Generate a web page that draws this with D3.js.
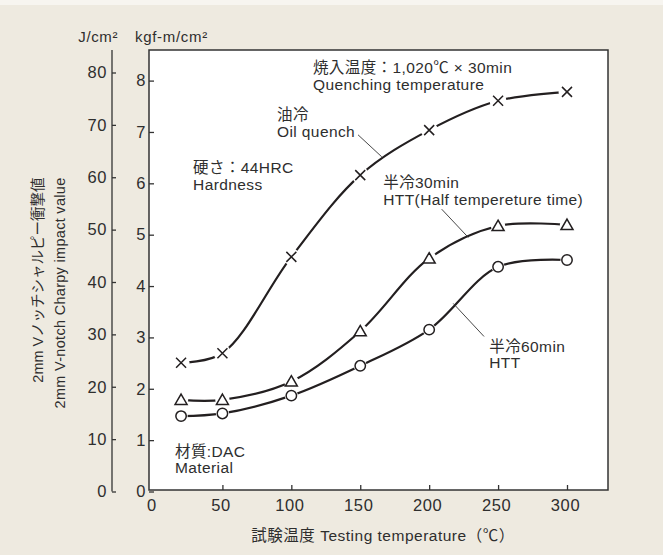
<!DOCTYPE html>
<html>
<head>
<meta charset="utf-8">
<script src="https://cdn.jsdelivr.net/npm/d3@7"></script>
<style>
  html, body { margin: 0; padding: 0; background: #eeeae0; }
  svg { display: block; }
  text { font-family: "Liberation Sans", Arial, "Noto Sans CJK JP", sans-serif; fill: #2e2e2e; }
</style>
</head>
<body>
<script>
const WIDTH = 663, HEIGHT = 555;

// test temperature, °C
const temps = [20, 50, 100, 150, 200, 250, 300];
// 2mm V-notch Charpy impact value, J/cm2
const oilQuench = [24.6, 26.4, 44.8, 60.4, 69.0, 74.6, 76.3];
const htt30 = [17.5, 17.5, 21.0, 30.6, 44.5, 50.7, 50.9];
const htt60 = [14.4, 14.9, 18.3, 24.0, 30.9, 42.9, 44.2];

const jTicks = d3.range(0, 90, 10);
const kgfTicks = d3.range(0, 9);
const tempTicks = d3.range(0, 350, 50);
const KGF = 9.80665; // 1 kgf-m = 9.80665 J

const series = [
  { values: oilQuench, marker: 'cross' },
  { values: htt30, marker: 'triangle' },
  { values: htt60, marker: 'circle' }
];

// text notes, placed in data units (°C, J/cm2)
const notes = [
  { t: 115.7, j: 79.9, lines: ['焼入温度：1,020℃ × 30min', 'Quenching temperature'] },
  { t: 89.6, j: 70.9, lines: ['油冷', 'Oil quench'] },
  { t: 28.7, j: 60.8, lines: ['硬さ：44HRC', 'Hardness'] },
  { t: 166.7, j: 57.9, lines: ['半冷30min', 'HTT(Half tempereture time)'] },
  { t: 243.6, j: 26.7, lines: ['半冷60min', 'HTT'] },
  { t: 15.6, j: 6.6, lines: ['材質:DAC', 'Material'] }
];
// leader lines from note to curve
const leaders = [
  [148.4, 68.1, 165.6, 63.9],
  [209.1, 53.9, 228.4, 48.5],
  [217.5, 35.9, 239.8, 29.6]
];

const INK = '#231f20';

const svg = d3.select('body').append('svg')
  .attr('width', WIDTH)
  .attr('height', HEIGHT);

svg.append('rect').attr('width', WIDTH).attr('height', HEIGHT).attr('fill', '#eeeae0');
svg.append('rect').attr('width', WIDTH).attr('height', 5).attr('fill', '#f7f5f0');

const x = d3.scaleLinear().domain([0, 300]).range([153.5, 567]);
const y = d3.scaleLinear().domain([0, 80]).range([491.5, 72.5]);
const yK = d3.scaleLinear().domain([0, 80 / KGF]).range(y.range());

// plot box
svg.append('rect')
  .attr('x', 149).attr('y', 50)
  .attr('width', 459).attr('height', 440)
  .attr('fill', '#fff')
  .attr('stroke', '#333')
  .attr('stroke-width', 1.5);

// J/cm2 axis
svg.append('line')
  .attr('x1', 112).attr('x2', 112)
  .attr('y1', 50).attr('y2', y(0))
  .attr('stroke', '#333').attr('stroke-width', 1.3);

const jAxis = svg.append('g')
  .attr('transform', 'translate(112,0)')
  .call(d3.axisLeft(y).tickValues(jTicks).tickSize(-4).tickSizeOuter(0).tickPadding(5));

const kAxis = svg.append('g')
  .attr('transform', 'translate(149,0)')
  .call(d3.axisLeft(yK).tickValues(kgfTicks).tickFormat(d3.format('d')).tickSize(-5).tickSizeOuter(0).tickPadding(3));

const xAxis = svg.append('g')
  .attr('transform', 'translate(0,490)')
  .call(d3.axisBottom(x).tickValues(tempTicks).tickSize(-5).tickSizeOuter(0).tickPadding(9));

[jAxis, kAxis, xAxis].forEach(a => {
  a.select('.domain').remove();
  a.selectAll('line').attr('stroke', '#333').attr('stroke-width', 1.3);
  a.selectAll('text')
    .attr('font-size', 16.5)
    .attr('letter-spacing', 0.6)
    .attr('fill', '#2e2e2e')
    .style('font-family', '"Liberation Sans", Arial, sans-serif');
});
xAxis.selectAll('.tick').filter(d => d === 0).select('line').remove();
xAxis.selectAll('text').attr('dx', -2);

// axis titles
svg.append('text').attr('x', 118).attr('y', 41.5)
  .attr('text-anchor', 'end').attr('font-size', 15).attr('letter-spacing', 0.6)
  .text('J/cm²');
svg.append('text').attr('x', 135).attr('y', 41.5)
  .attr('font-size', 15).attr('letter-spacing', 0.7)
  .text('kgf-m/cm²');

const yTitle = svg.append('g').attr('transform', 'translate(43,177.5) rotate(-90)');
yTitle.append('text').attr('text-anchor', 'end').attr('font-size', 14.5)
  .text('2mm Vノッチシャルピー衝撃値');
yTitle.append('text').attr('y', 21.5).attr('text-anchor', 'end').attr('font-size', 14.5)
  .attr('letter-spacing', 0.3)
  .text('2mm V-notch Charpy impact value');

svg.append('text').attr('x', 383).attr('y', 541)
  .attr('text-anchor', 'middle').attr('font-size', 15.5).attr('letter-spacing', 0.5)
  .text('試験温度 Testing temperature（℃）');

// curves
const line = d3.line()
  .x(d => x(d[0]))
  .y(d => y(d[1]))
  .curve(d3.curveCatmullRom.alpha(0.5));

const plot = svg.append('g');

series.forEach(s => {
  const pts = temps.map((t, i) => [t, s.values[i]]);
  plot.append('path')
    .datum(pts)
    .attr('d', line)
    .attr('fill', 'none')
    .attr('stroke', INK)
    .attr('stroke-width', 2.2);

  const halo = { cross: 8.5, triangle: 7.2, circle: 6.6 }[s.marker];
  const m = plot.append('g').selectAll('g')
    .data(pts)
    .enter()
    .append('g')
    .attr('transform', d => `translate(${x(d[0])},${y(d[1])})`);

  m.append('circle').attr('r', halo).attr('fill', '#fff');

  if (s.marker === 'cross') {
    m.append('path').attr('d', 'M-5,-5L5,5M5,-5L-5,5')
      .attr('stroke', INK).attr('stroke-width', 1.5);
  } else if (s.marker === 'triangle') {
    m.append('path').attr('d', 'M0,-5.8L6,4.6L-6,4.6Z')
      .attr('fill', '#fff').attr('stroke', INK).attr('stroke-width', 1.5)
      .attr('stroke-linejoin', 'miter');
  } else {
    m.append('circle').attr('r', 5.2)
      .attr('fill', '#fff').attr('stroke', INK).attr('stroke-width', 1.5);
  }
});

// leader lines
plot.append('g').selectAll('line')
  .data(leaders)
  .enter()
  .append('line')
  .attr('x1', d => x(d[0])).attr('y1', d => y(d[1]))
  .attr('x2', d => x(d[2])).attr('y2', d => y(d[3]))
  .attr('stroke', '#333')
  .attr('stroke-width', 0.9);

// notes
notes.forEach(n => {
  const t = svg.append('text')
    .attr('x', x(n.t))
    .attr('y', y(n.j))
    .attr('font-size', 15.5)
    .attr('letter-spacing', 0.4)
    .attr('fill', '#333');
  n.lines.forEach((l, i) => {
    t.append('tspan')
      .attr('x', x(n.t))
      .attr('dy', i === 0 ? 0 : 16.5)
      .text(l);
  });
});
</script>
</body>
</html>
